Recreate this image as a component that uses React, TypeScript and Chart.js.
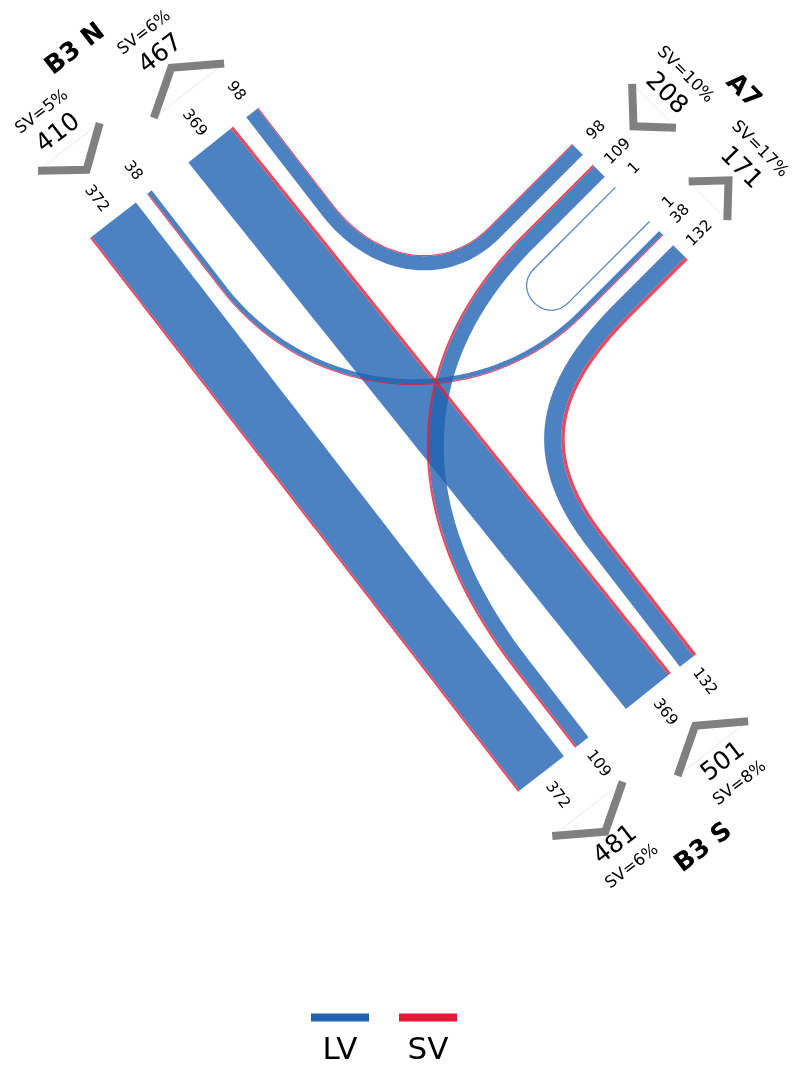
import React, { useEffect, useRef } from 'react';
import { Chart, registerables } from 'chart.js';

Chart.register(...registerables);

// ---------------- data ----------------
const ARM_NAMES = ['B3 N', 'A7', 'B3 S'];
const ARM_IN_TOTALS = [410, 208, 501]; // vehicles entering the junction from each arm
const ARM_IN_SV_PCT = [5, 10, 8];
const ARM_OUT_TOTALS = [467, 171, 481]; // vehicles leaving the junction by each arm
const ARM_OUT_SV_PCT = [6, 17, 6];

// flows: origin arm -> destination arm
const FLOW_FROM = [0, 0, 2, 1, 1, 1, 2];
const FLOW_TO = [2, 1, 0, 0, 2, 1, 1];
const FLOW_TOTAL = [372, 38, 369, 98, 109, 1, 132];
const FLOW_SV = [13, 7, 20, 7, 14, 0, 22];

const LEGEND_LABELS = ['LV', 'SV'];

// ---------------- layout / style ----------------
const CW = 793;
const CH = 1066;
const PX_PER_VEH = 0.156;
const MIN_BAND = 1.2;
const ARM_ANCHOR: [number, number][] = [[90, 238], [572, 144], [518, 791.8]];
const ARM_IN_ANGLE = [52.3, 135, 232.3];
const ARM_LAT_ANGLE = [-37.7, 45, -37.7];
// lanes along each arm: [flow, role (0 = leaves arm, 1 = arrives), gap before]
const ARM_LANES: [number, number, number][][] = [
  [[0, 0, 0], [1, 0, 14], [2, 1, 46], [3, 1, 16]],
  [[3, 0, 0], [4, 0, 14], [5, 0, 14.5], [5, 1, 47], [1, 1, 13], [6, 1, 14]],
  [[0, 1, 0], [4, 1, 14], [2, 0, 47], [6, 0, 11]],
];
// path shape per flow: [straight at start, handle at start, straight at end, handle at end]
const FLOW_SHAPE = [
  [0, 0, 0, 0],
  [120, 150, 113, 140],
  [0, 0, 0, 0],
  [117, 72, 123, 72],
  [100, 180, 100, 180],
  [115, 32, 115, 32],
  [150, 110, 80, 110],
];
const LANE_LABEL_DIST = 27;
const CHEV_NEAR = 56;
const CHEV_FAR = 85;
const NUM_DIST = 102;
const SV_DIST = 129;
const NAME_DIST = 158;
const LEGEND_X = [340, 428];
const LEGEND_LINE_Y = 1017.5;
const LEGEND_TEXT_Y = 1051;
const LEGEND_LINE_LEN = 58;

const LV_COLOR = 'rgb(31,99,177)';
const SV_COLOR = 'rgb(227,27,55)';
const LV_FILL = 'rgba(31,99,177,0.8)';
const SV_FILL = 'rgba(227,27,55,0.8)';
const CHEV_COLOR = '#808080';
const FONT = '"DejaVu Sans", "Liberation Sans", sans-serif';

type P = [number, number];
const rad = (d: number) => (d * Math.PI) / 180;
const dir = (deg: number): P => [Math.cos(rad(deg)), Math.sin(rad(deg))];
const upright = (a: number) => {
  let r = ((((a % 360) + 540) % 360) - 180);
  if (r > 90) r -= 180;
  if (r <= -90) r += 180;
  return r;
};

interface Lane { arm: number; flow: number; role: number; lat0: number; w: number; }

const bandWidth = (f: number) => Math.max(FLOW_TOTAL[f] * PX_PER_VEH, MIN_BAND);

function buildLanes(): Lane[] {
  const lanes: Lane[] = [];
  ARM_LANES.forEach((list, arm) => {
    let cur = 0;
    list.forEach(([flow, role, gap]) => {
      cur += gap;
      const w = bandWidth(flow);
      lanes.push({ arm, flow, role, lat0: cur, w });
      cur += w;
    });
  });
  return lanes;
}

function armPoint(arm: number, lat: number, out: number): P {
  const [ax, ay] = ARM_ANCHOR[arm];
  const [lx, ly] = dir(ARM_LAT_ANGLE[arm]);
  const [ix, iy] = dir(ARM_IN_ANGLE[arm]);
  return [ax + lx * lat - ix * out, ay + ly * lat - iy * out];
}

function centerline(f: number, lanes: Lane[]): P[] {
  const la = lanes.find((l) => l.flow === f && l.role === 0 && l.arm === FLOW_FROM[f])!;
  const lb = lanes.find((l) => l.flow === f && l.role === 1 && l.arm === FLOW_TO[f])!;
  const pA = armPoint(la.arm, la.lat0 + la.w / 2, 0);
  const pB = armPoint(lb.arm, lb.lat0 + lb.w / 2, 0);
  const uA = dir(ARM_IN_ANGLE[la.arm]);
  const uB = dir(ARM_IN_ANGLE[lb.arm]);
  const [sA, hA, sB, hB] = FLOW_SHAPE[f];
  const q0: P = [pA[0] + uA[0] * sA, pA[1] + uA[1] * sA];
  const q1: P = [q0[0] + uA[0] * hA, q0[1] + uA[1] * hA];
  const q3: P = [pB[0] + uB[0] * sB, pB[1] + uB[1] * sB];
  const q2: P = [q3[0] + uB[0] * hB, q3[1] + uB[1] * hB];
  const raw: P[] = [pA];
  const N = 90;
  for (let i = 0; i <= N; i++) {
    const t = i / N;
    const a = (1 - t) ** 3, b = 3 * (1 - t) ** 2 * t, c = 3 * (1 - t) * t * t, d = t ** 3;
    raw.push([
      a * q0[0] + b * q1[0] + c * q2[0] + d * q3[0],
      a * q0[1] + b * q1[1] + c * q2[1] + d * q3[1],
    ]);
  }
  raw.push(pB);
  const pts: P[] = [];
  raw.forEach((p) => {
    const last = pts[pts.length - 1];
    if (!last || Math.hypot(p[0] - last[0], p[1] - last[1]) > 0.05) pts.push(p);
  });
  return pts;
}

function strip(pts: P[], o1: number, o2: number) {
  const n = pts.length;
  const normals = pts.map((_, i) => {
    const a = pts[Math.max(0, i - 1)];
    const b = pts[Math.min(n - 1, i + 1)];
    const tx = b[0] - a[0], ty = b[1] - a[1];
    const L = Math.hypot(tx, ty) || 1;
    return [-ty / L, tx / L];
  });
  const left = pts.map((p, i) => ({ x: p[0] + normals[i][0] * o1, y: p[1] + normals[i][1] * o1 }));
  const right = pts.map((p, i) => ({ x: p[0] + normals[i][0] * o2, y: p[1] + normals[i][1] * o2 })).reverse();
  return [...left, ...right, left[0]];
}

function groupSpan(lanes: Lane[], arm: number, role: number) {
  const g = lanes.filter((l) => l.arm === arm && l.role === role);
  const lo = Math.min(...g.map((l) => l.lat0));
  const hi = Math.max(...g.map((l) => l.lat0 + l.w));
  return { lo, hi, mid: (lo + hi) / 2 };
}

function buildDatasets() {
  const lanes = buildLanes();
  const ds: any[] = [];
  const base = {
    showLine: true, pointRadius: 0, pointHoverRadius: 0, tension: 0,
  };
  FLOW_TOTAL.forEach((total, f) => {
    const pts = centerline(f, lanes);
    const w = bandWidth(f);
    const s = FLOW_SV[f] * PX_PER_VEH;
    ds.push({
      ...base, label: `LV ${total}`, data: strip(pts, -w / 2, w / 2 - s),
      fill: 'shape', backgroundColor: LV_FILL, borderWidth: 0, borderDash: [1, 0], order: 3,
    });
    if (s > 0) {
      ds.push({
        ...base, label: `SV ${total}`, data: strip(pts, w / 2 - s, w / 2),
        fill: 'shape', backgroundColor: SV_FILL, borderWidth: 0, borderDash: [1, 0], order: 2,
      });
    }
  });
  ARM_NAMES.forEach((_, arm) => {
    [0, 1].forEach((role) => {
      const { lo, hi, mid } = groupSpan(lanes, arm, role);
      const tipD = role === 0 ? CHEV_NEAR : CHEV_FAR;
      const endD = role === 0 ? CHEV_FAR : CHEV_NEAR;
      const e1 = armPoint(arm, lo, endD);
      const v = armPoint(arm, mid, tipD);
      const e2 = armPoint(arm, hi, endD);
      ds.push({
        ...base, label: 'base', data: [{ x: e1[0], y: e1[1] }, { x: e2[0], y: e2[1] }],
        borderColor: 'rgba(0,0,0,0.13)', borderWidth: 0.7, fill: false, order: 1,
      });
      ds.push({
        ...base, label: 'chevron', data: [{ x: e1[0], y: e1[1] }, { x: v[0], y: v[1] }, { x: e2[0], y: e2[1] }],
        borderColor: CHEV_COLOR, borderWidth: 8, borderJoinStyle: 'miter', borderCapStyle: 'butt',
        fill: false, order: 0,
      });
    });
  });
  return { ds, lanes };
}

function makeTextPlugin(lanes: Lane[]) {
  return {
    id: 'junctionText',
    afterDraw(chart: any) {
      const ctx: CanvasRenderingContext2D = chart.ctx;
      const xs = chart.scales.x;
      const ys = chart.scales.y;
      const put = (text: string, p: P, angle: number, font: string) => {
        ctx.save();
        ctx.translate(xs.getPixelForValue(p[0]), ys.getPixelForValue(p[1]));
        ctx.rotate(rad(angle));
        ctx.font = font;
        ctx.fillStyle = '#000';
        ctx.textAlign = 'center';
        ctx.textBaseline = 'middle';
        ctx.fillText(text, 0, 0);
        ctx.restore();
      };
      // lane labels
      lanes.forEach((l) => {
        const p = armPoint(l.arm, l.lat0 + l.w / 2, LANE_LABEL_DIST);
        put(String(FLOW_TOTAL[l.flow]), p, upright(ARM_IN_ANGLE[l.arm]), `15.5px ${FONT}`);
      });
      // arm headers
      ARM_NAMES.forEach((name, arm) => {
        const ang = upright(ARM_LAT_ANGLE[arm]);
        const gIn = groupSpan(lanes, arm, 0);
        const gOut = groupSpan(lanes, arm, 1);
        put(String(ARM_IN_TOTALS[arm]), armPoint(arm, gIn.mid, NUM_DIST), ang, `25px ${FONT}`);
        put(`SV=${ARM_IN_SV_PCT[arm]}%`, armPoint(arm, gIn.mid, SV_DIST), ang, `16.5px ${FONT}`);
        put(String(ARM_OUT_TOTALS[arm]), armPoint(arm, gOut.mid, NUM_DIST), ang, `25px ${FONT}`);
        put(`SV=${ARM_OUT_SV_PCT[arm]}%`, armPoint(arm, gOut.mid, SV_DIST), ang, `16.5px ${FONT}`);
        put(name, armPoint(arm, (gIn.mid + gOut.mid) / 2, NAME_DIST), ang, `bold 25.5px ${FONT}`);
      });
      // legend
      const colors = [LV_COLOR, SV_COLOR];
      LEGEND_LABELS.forEach((lab, i) => {
        const cx = LEGEND_X[i];
        ctx.save();
        ctx.strokeStyle = colors[i];
        ctx.lineWidth = 8;
        ctx.lineCap = 'butt';
        ctx.beginPath();
        ctx.moveTo(cx - LEGEND_LINE_LEN / 2, LEGEND_LINE_Y);
        ctx.lineTo(cx + LEGEND_LINE_LEN / 2, LEGEND_LINE_Y);
        ctx.stroke();
        ctx.restore();
        put(lab, [cx, LEGEND_TEXT_Y], 0, `31px ${FONT}`);
      });
    },
  };
}

export default function App() {
  const ref = useRef<HTMLCanvasElement>(null);
  useEffect(() => {
    const { ds, lanes } = buildDatasets();
    const chart = new Chart(ref.current!, {
      type: 'scatter',
      data: { datasets: ds },
      options: {
        responsive: false,
        animation: false,
        devicePixelRatio: 1,
        events: [],
        layout: { padding: 0 },
        plugins: {
          legend: { display: false },
          tooltip: { enabled: false },
          title: { display: false },
        },
        scales: {
          x: { type: 'linear', min: 0, max: CW, display: false },
          y: { type: 'linear', min: 0, max: CH, reverse: true, display: false },
        },
      },
      plugins: [makeTextPlugin(lanes)],
    } as any);
    return () => chart.destroy();
  }, []);
  return (
    <div style={{ position: 'absolute', left: 0, top: 0, width: CW, height: CH, background: '#fff' }}>
      <canvas ref={ref} width={CW} height={CH} style={{ display: 'block', width: CW, height: CH }} />
    </div>
  );
}
